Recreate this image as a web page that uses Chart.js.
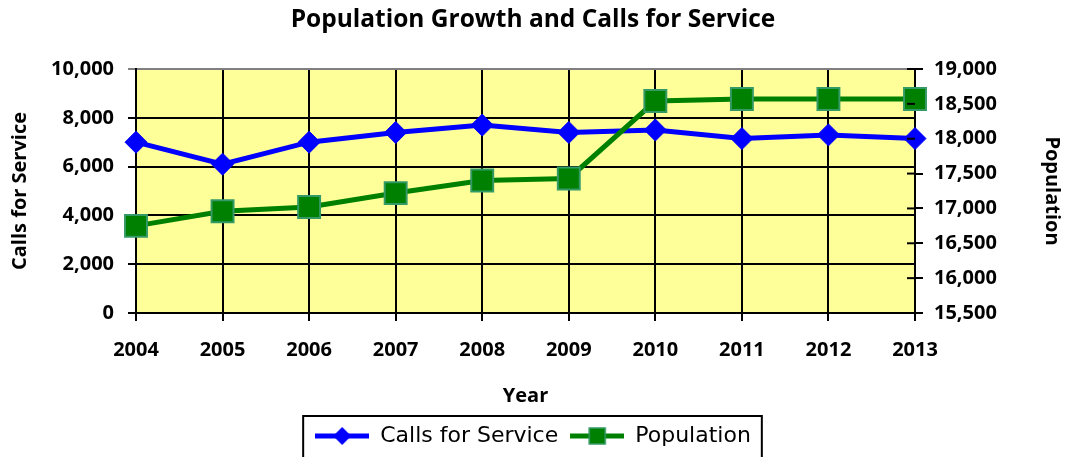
<!DOCTYPE html>
<html>
<head>
<meta charset="utf-8">
<script src="https://cdn.jsdelivr.net/npm/chart.js@4.4.0/dist/chart.umd.min.js"></script>
<style>
  html, body { margin: 0; padding: 0; background: #fff; }
  #wrap { width: 1066px; height: 457px; }
</style>
</head>
<body>
<div id="wrap"><canvas id="chart" width="1066" height="457"></canvas></div>
<script>
const years      = ['2004', '2005', '2006', '2007', '2008', '2009', '2010', '2011', '2012', '2013'];
const calls      = [7000, 6100, 7000, 7400, 7700, 7400, 7500, 7150, 7300, 7150];
const population = [16750, 16960, 17020, 17220, 17400, 17430, 18540, 18570, 18570, 18570];

const BOLD = { family: "'Open Sans', sans-serif", weight: 'bold', size: 20 };

function legendIcon(color, kind) {
  const c = document.createElement('canvas');
  c.width = 54; c.height = 24;
  const g = c.getContext('2d');
  g.strokeStyle = color;
  g.lineWidth = 5;
  g.beginPath(); g.moveTo(0, 12); g.lineTo(54, 12); g.stroke();
  if (kind === 'diamond') {
    g.fillStyle = color;
    g.beginPath();
    g.moveTo(27, 3); g.lineTo(36, 12); g.lineTo(27, 21); g.lineTo(18, 12);
    g.closePath(); g.fill();
  } else {
    g.fillStyle = '#008000';
    g.fillRect(19, 4, 16, 16);
    g.strokeStyle = '#339966';
    g.lineWidth = 1.5;
    g.strokeRect(19, 4, 16, 16);
  }
  return c;
}

const plotBg = {
  id: 'plotBg',
  beforeDraw(chart) {
    const { ctx, chartArea: a } = chart;
    ctx.save();
    ctx.fillStyle = '#FFFF99';
    ctx.fillRect(a.left, a.top, a.right - a.left, a.bottom - a.top);
    ctx.restore();
  },
  afterDraw(chart) {
    const { ctx } = chart;
    // right axis ticks cross the axis line
    const s = chart.scales.y1;
    ctx.save();
    ctx.strokeStyle = '#000';
    ctx.lineWidth = 2;
    s.ticks.forEach((t, i) => {
      const y = s.getPixelForTick(i);
      ctx.beginPath(); ctx.moveTo(s.left - 8, y); ctx.lineTo(s.left, y); ctx.stroke();
    });
    // box round the legend
    const hb = chart.legend.legendHitBoxes;
    const l = Math.min(...hb.map(h => h.left)) - 12;
    const r = Math.max(...hb.map(h => h.left + h.width)) + 11;
    const t = hb[0].top - 9;
    ctx.lineWidth = 2;
    ctx.strokeRect(l, t, r - l, chart.height - t + 10);
    ctx.restore();
  }
};

new Chart(document.getElementById('chart'), {
  type: 'line',
  data: {
    labels: years,
    datasets: [{
      label: 'Calls for Service',
      data: calls,
      yAxisID: 'y',
      borderColor: '#0000FF',
      backgroundColor: '#0000FF',
      borderWidth: 5,
      pointStyle: 'rectRot',
      pointRadius: 11,
      pointBackgroundColor: '#0000FF',
      pointBorderColor: '#0000FF',
      pointBorderWidth: 1,
      tension: 0,
      order: 1
    }, {
      label: 'Population',
      data: population,
      yAxisID: 'y1',
      borderColor: '#008000',
      backgroundColor: '#008000',
      borderWidth: 5,
      pointStyle: 'rect',
      pointRadius: 15.5,
      pointBackgroundColor: '#008000',
      pointBorderColor: '#339966',
      pointBorderWidth: 2,
      tension: 0,
      order: 0
    }]
  },
  options: {
    responsive: false,
    animation: false,
    layout: { padding: 0 },
    plugins: {
      title: {
        display: true,
        text: 'Population Growth and Calls for Service',
        color: '#000',
        font: { family: "'Open Sans', sans-serif", weight: 'bold', size: 24.5 },
        padding: { top: 5, bottom: 34.6 }
      },
      legend: {
        position: 'bottom',
        labels: {
          usePointStyle: true,
          pointStyleWidth: 54,
          padding: 12,
          color: '#000',
          font: { family: "'DejaVu Sans', sans-serif", size: 22 },
          generateLabels: chart => chart.data.datasets.map((d, i) => ({
            text: d.label,
            pointStyle: legendIcon(d.borderColor, i === 0 ? 'diamond' : 'square'),
            datasetIndex: i,
            fontColor: '#000',
            lineWidth: 0,
            strokeStyle: 'transparent',
            fillStyle: 'transparent'
          }))
        }
      },
      tooltip: { enabled: false }
    },
    scales: {
      x: {
        offset: false,
        grid: { color: '#000', lineWidth: 2, tickLength: 8 },
        border: { color: '#000', width: 2 },
        ticks: { color: '#000', font: BOLD, padding: 17, maxRotation: 0 },
        title: { display: true, text: 'Year', color: '#000', font: BOLD, padding: { top: 0, bottom: 5 } },
        afterFit(s) { s.height = 100; }
      },
      y: {
        position: 'left',
        min: 0, max: 10000,
        ticks: { stepSize: 2000, color: '#000', font: BOLD, padding: 14 },
        grid: {
          color: ctx => ctx.tick && ctx.tick.value === 10000 ? '#808080' : '#000',
          lineWidth: 2, tickLength: 8
        },
        border: { color: '#000', width: 2 },
        title: { display: true, text: 'Calls for Service', color: '#000', font: BOLD, padding: { top: 8 } },
        afterFit(s) { s.width = 136; }
      },
      y1: {
        position: 'right',
        min: 15500, max: 19000,
        ticks: { stepSize: 500, color: '#000', font: BOLD, padding: 11 },
        grid: { drawOnChartArea: false, color: '#000', lineWidth: 2, tickLength: 8 },
        border: { color: '#000', width: 2 },
        title: { display: true, text: 'Population', color: '#000', font: BOLD, padding: { top: 2 } },
        afterFit(s) { s.width = 151; }
      }
    }
  },
  plugins: [plotBg]
});
</script>
</body>
</html>
